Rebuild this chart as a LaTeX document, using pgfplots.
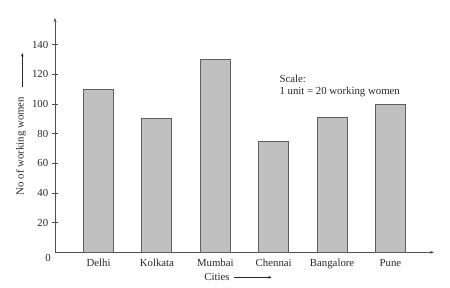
\documentclass[border=0pt]{standalone}
\usepackage{pgfplots}
\pgfplotsset{compat=1.18}
\usepackage{fontspec}
\setmainfont{Liberation Serif}
\usetikzlibrary{arrows.meta}
\definecolor{barfill}{RGB}{192,192,192}
\definecolor{baredge}{RGB}{95,95,95}
\definecolor{axcol}{RGB}{80,80,80}
\definecolor{txt}{RGB}{40,40,40}
\begin{document}
\fontsize{10.8pt}{12pt}\selectfont
\begin{tikzpicture}[x=1pt,y=1pt]
\path[use as bounding box] (0,0) rectangle (450,288);
\begin{axis}[
  at={(55pt,35.7pt)}, anchor=south west,
  width=379pt, height=234.3pt, scale only axis,
  xmin=-0.745, xmax=5.745, ymin=0, ymax=158,
  axis lines=left,
  axis line style={axcol, line width=0.8pt, -{Stealth[length=4pt,width=3pt]}},
  ybar, bar width=30pt,
  xtick={0,1,2,3,4,5},
  xticklabels={Delhi,Kolkata,Mumbai,Chennai,Bangalore,Pune},
  major x tick style={draw=none},
  ytick={20,40,60,80,100,120,140},
  tick align=center, major tick length=6pt,
  major y tick style={axcol, line width=0.6pt},
  tick label style={font=\fontsize{10.8pt}{12pt}\selectfont, text=txt},
  /pgf/number format/assume math mode=true,
  clip=false,
]
\addplot[fill=barfill, draw=baredge, line width=0.9pt] coordinates {
  (0,110) (1,90) (2,130) (3,75) (4,91) (5,100)
};
\node[text=txt, font=\fontsize{10.8pt}{12pt}\selectfont] at (axis cs:-0.745,0) [xshift=-7pt, yshift=-5.5pt] {0};
\end{axis}
\node[rotate=90, text=txt] at (21,142) {No of working women};
\draw[txt, line width=0.5pt, -{Stealth[length=3.5pt,width=2.5pt]}] (22.3,201) -- (22.3,235);
\node[text=txt] at (217,10.7) {Cities};
\draw[txt, line width=0.5pt, -{Stealth[length=3.5pt,width=2.5pt]}] (234.3,10.7) -- (271.7,10.7);
\node[text=txt, anchor=west, align=left, inner sep=0pt] at (279.3,202) {Scale:\\1 unit = 20 working women};
\end{tikzpicture}
\end{document}
